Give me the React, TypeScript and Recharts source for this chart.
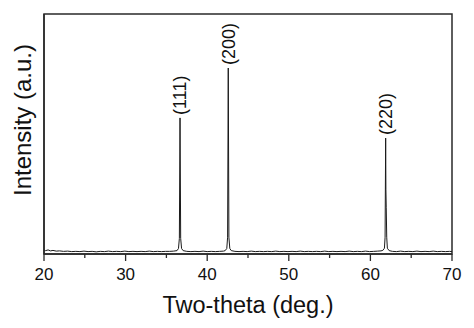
import { ComposedChart, Line, Scatter, XAxis, YAxis, ReferenceArea, Label } from 'recharts';

// two-theta (deg.) and measured intensity (a.u., 0-100 scale)
const twoTheta = [
  20.0, 20.2, 20.5, 20.8, 21.1, 21.5, 21.9, 22.4, 22.9, 23.4, 23.9, 24.4, 24.9, 25.4, 25.9,
  26.4, 26.9, 27.4, 27.9, 28.4, 28.9, 29.4, 29.9, 30.4, 30.9, 31.4, 31.9, 32.4, 32.9, 33.4,
  33.9, 34.4, 34.9, 35.4, 35.9, 36.3, 36.48, 36.59, 36.67, 36.75, 36.86, 37.05, 37.5, 38.0,
  38.5, 39.0, 39.5, 40.0, 40.5, 41.0, 41.5, 42.0, 42.2, 42.4, 42.5, 42.58, 42.66, 42.77,
  42.95, 43.4, 43.9, 44.4, 44.9, 45.4, 45.9, 46.4, 46.9, 47.4, 47.9, 48.4, 48.9, 49.4, 49.9,
  50.4, 50.9, 51.4, 51.9, 52.4, 52.9, 53.4, 53.9, 54.4, 54.9, 55.4, 55.9, 56.4, 56.9, 57.4,
  57.9, 58.4, 58.9, 59.4, 59.9, 60.4, 60.9, 61.3, 61.52, 61.72, 61.8, 61.87, 61.9, 61.94,
  62.0, 62.08, 62.3, 62.7, 63.2, 63.7, 64.2, 64.7, 65.2, 65.7, 66.2, 66.7, 67.2, 67.7, 68.2,
  68.7, 69.2, 69.7, 70.0,
];
const intensity = [
  1.6, 1.4, 1.7, 1.3, 1.5, 1.2, 1.3, 1.1, 1.2, 1.0, 1.1, 1.0, 1.2, 1.0, 1.1,
  0.9, 1.1, 1.0, 1.2, 1.0, 1.1, 1.0, 1.2, 1.0, 1.1, 1.0, 1.1, 1.0, 1.2, 1.0,
  1.1, 1.0, 1.1, 1.1, 1.2, 1.4, 2.3, 6.5, 56.7, 6.5, 2.3, 1.4, 1.1, 1.0,
  1.1, 1.0, 1.2, 1.0, 1.1, 1.0, 1.1, 1.2, 1.4, 2.3, 7.0, 77.5, 7.0, 2.3,
  1.4, 1.1, 1.0, 1.1, 1.0, 1.2, 1.0, 1.1, 1.0, 1.1, 1.0, 1.2, 1.0, 1.1, 1.0,
  1.1, 1.0, 1.2, 1.0, 1.1, 1.0, 1.1, 1.0, 1.2, 1.0, 1.1, 1.0, 1.1, 1.0, 1.2,
  1.0, 1.1, 1.0, 1.2, 1.0, 1.1, 1.2, 1.3, 1.5, 2.4, 7.0, 48.3, 27.0, 19.5,
  7.0, 2.4, 1.4, 1.1, 1.0, 1.2, 1.0, 1.1, 1.0, 1.2, 1.0, 1.1, 1.0, 1.2, 1.0,
  1.1, 1.0, 1.1, 1.0,
];

// indexed reflections
const peakAngles = [36.67, 42.58, 61.87];
const peakTops = [56.7, 77.5, 48.3];
const peakNames = ['(111)', '(200)', '(220)'];

const xTicks = [20, 25, 30, 35, 40, 45, 50, 55, 60, 65, 70];
const xLabeled = [20, 30, 40, 50, 60, 70];

const spectrum = twoTheta.map((x, i) => ({ x, y: intensity[i] }));
const peaks = peakAngles.map((x, i) => ({ x, y: peakTops[i], name: peakNames[i] }));

const FONT = '"Liberation Sans", Arial, sans-serif';
const INK = '#2a2a2a';

function XTick({ x, y, payload }: any) {
  const major = xLabeled.includes(payload.value);
  return (
    <g>
      <line x1={x} y1={y} x2={x} y2={y + (major ? 7 : 4)} stroke={INK} strokeWidth={1.3} />
      {major && (
        <text x={x} y={y + 26} textAnchor="middle" fontSize={17} fill="#111" fontFamily={FONT}>
          {payload.value}
        </text>
      )}
    </g>
  );
}

function PeakLabel({ cx, cy, payload }: any) {
  const ty = cy - 3;
  return (
    <text
      x={cx}
      y={ty}
      dy="0.35em"
      transform={`rotate(-90 ${cx} ${ty})`}
      textAnchor="start"
      fontSize={18}
      fill="#111"
      fontFamily={FONT}
    >
      {payload.name}
    </text>
  );
}

export default function App() {
  return (
    <div style={{ position: 'absolute', left: 0, top: 0, background: '#fff' }}>
      <ComposedChart width={474} height={328} margin={{ top: 14, right: 22, bottom: 0, left: 0 }}>
        <ReferenceArea x1={20} x2={70} y1={0} y2={100} fill="none" stroke={INK} strokeWidth={1.5} />
        <XAxis
          dataKey="x"
          type="number"
          domain={[20, 70]}
          ticks={xTicks}
          interval={0}
          height={74}
          tickSize={0}
          tickMargin={0}
          tickLine={false}
          axisLine={{ stroke: INK, strokeWidth: 1.5 }}
          tick={(props: any) => <XTick {...props} />}
        >
          <Label
            content={(props: any) => {
              const vb = props.viewBox;
              return (
                <text x={vb.x + vb.width / 2} y={vb.y + 59} textAnchor="middle" fontSize={23.5} fill="#111" fontFamily={FONT}>
                  Two-theta (deg.)
                </text>
              );
            }}
          />
        </XAxis>
        <YAxis
          type="number"
          domain={[0, 100]}
          width={44}
          tick={false}
          tickLine={false}
          axisLine={{ stroke: INK, strokeWidth: 1.5 }}
        >
          <Label
            content={(props: any) => {
              const vb = props.viewBox;
              const cx = vb.x + 23;
              const cy = vb.y + vb.height / 2 - 14;
              return (
                <text
                  x={cx}
                  y={cy}
                  dy="0.35em"
                  transform={`rotate(-90 ${cx} ${cy})`}
                  textAnchor="middle"
                  fontSize={24}
                  fill="#111"
                  fontFamily={FONT}
                >
                  Intensity (a.u.)
                </text>
              );
            }}
          />
        </YAxis>
        <Line
          data={spectrum}
          dataKey="y"
          type="linear"
          stroke="#1a1a1a"
          strokeWidth={1}
          dot={false}
          isAnimationActive={false}
        />
        <Scatter data={peaks} dataKey="y" shape={(props: any) => <PeakLabel {...props} />} isAnimationActive={false} />
      </ComposedChart>
    </div>
  );
}
